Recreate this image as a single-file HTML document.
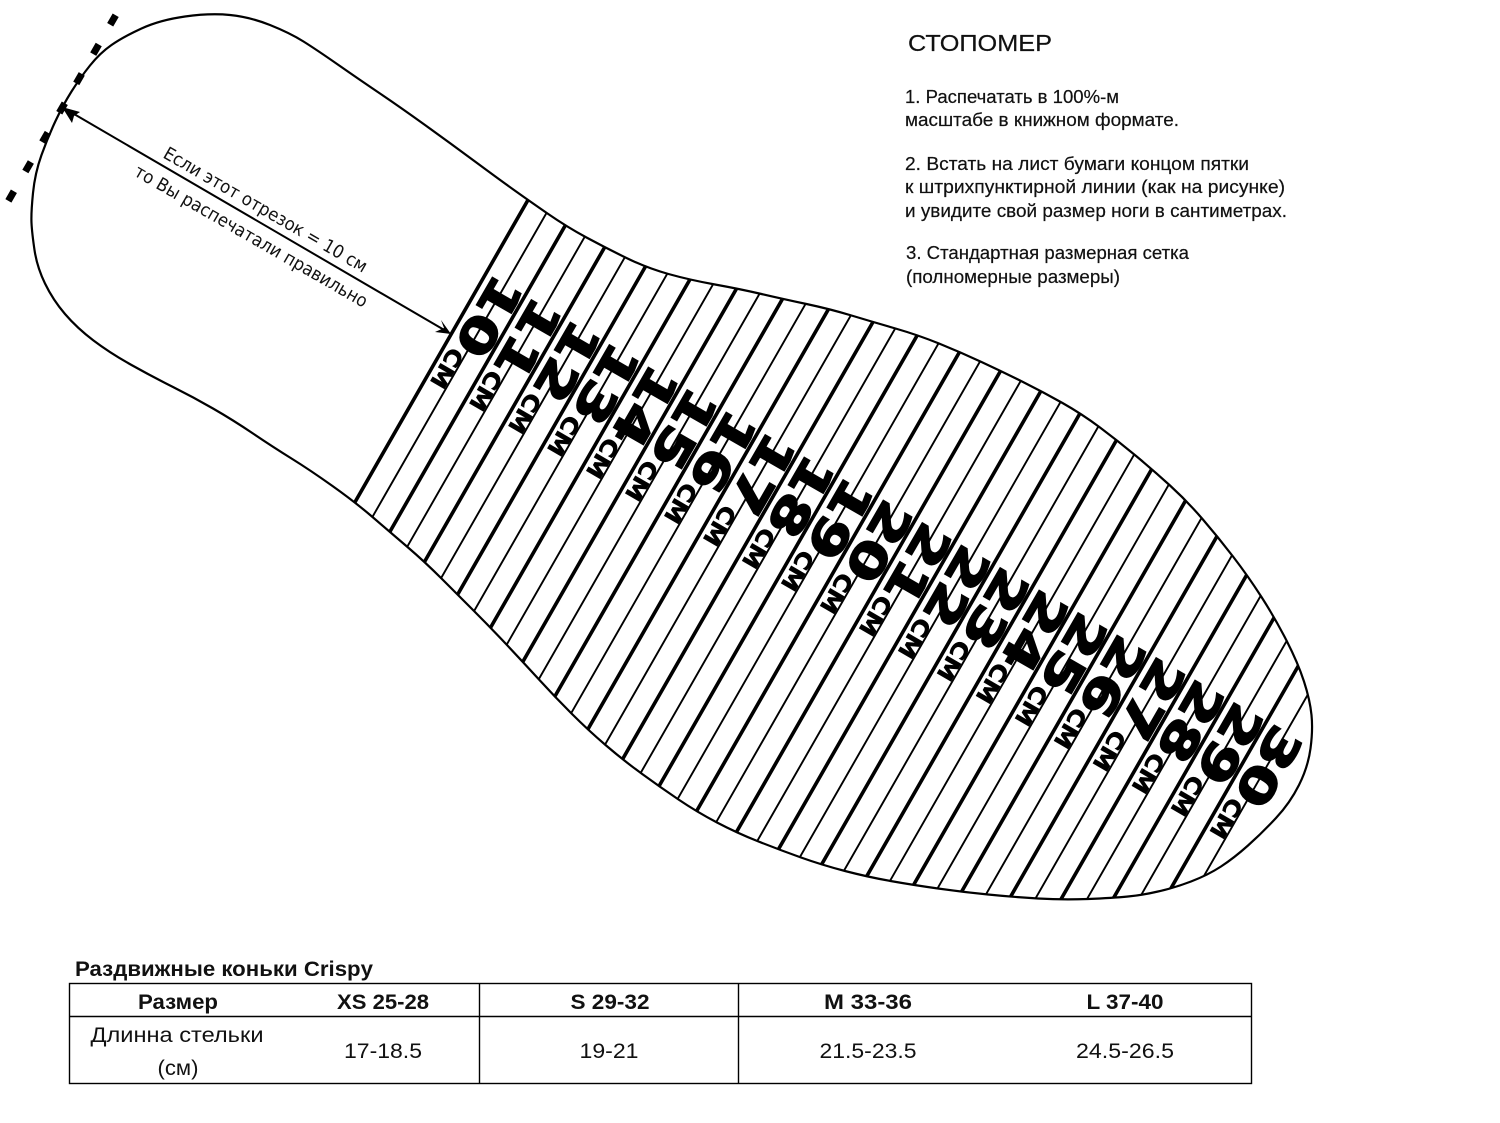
<!DOCTYPE html>
<html lang="ru"><head><meta charset="utf-8"><title>Стопомер</title>
<style>html,body{margin:0;padding:0;background:#fff;overflow:hidden;width:1500px;height:1123px}svg{display:block}</style></head>
<body>
<svg xmlns="http://www.w3.org/2000/svg" width="1500" height="1123" viewBox="0 0 1500 1123">
<defs>
<clipPath id="foot"><path d="M185 16.5Q210 13 230 15Q250 17 270 25Q290 33 303.5 41.5Q317 50 338.5 65Q360 80 380 93.5Q400 107 425 125Q450 143 475 161.5Q500 180 514 190Q528 200 547.5 213.5Q567 227 586.5 237.5Q606 248 626.5 258Q647 268 668.5 274Q690 280 715 284.5Q740 289 761.5 294Q783 299 806.5 304Q830 309 851.5 315.5Q873 322 895.5 328.5Q918 335 939 343.5Q960 352 981.5 362Q1003 372 1023 382Q1043 392 1062.5 403Q1082 414 1100 427.5Q1118 441 1135.5 455.5Q1153 470 1170 485.5Q1187 501 1202.5 519Q1218 537 1233 556.5Q1248 576 1261.5 597Q1275 618 1286.5 640.5Q1298 663 1304 681.5Q1310 700 1311.5 715Q1313 730 1310.5 748.5Q1308 767 1299 785Q1290 803 1276 818Q1262 833 1248 845.5Q1234 858 1221 866.5Q1208 875 1191 881.5Q1174 888 1158 891.5Q1143 895 1128 896.5Q1113 898 1088 899Q1063 900 1038 898.5Q1013 897 988 894.5Q963 892 938 888.5Q913 885 890.5 881Q868 877 845 871Q822 865 801 857.5Q780 850 758.5 841.5Q737 833 717 822.5Q697 812 678.5 799.5Q660 787 641.5 773.5Q623 760 605.5 745Q588 730 571.5 713.5Q555 697 539 679.5Q523 662 506.5 644.5Q490 627 474 611Q458 595 441.5 578.5Q425 562 407.5 547Q390 532 372.5 517Q355 502 332.5 486Q310 470 291.5 458.5Q273 447 253 433.5Q233 420 213 408.5Q193 397 173 387Q153 377 131.5 365Q110 353 93.5 340.5Q77 328 65 314Q53 300 45 283.5Q37 267 34.5 250Q32 233 31.5 223Q31 213 33 193Q35 173 41.5 155Q48 137 55.5 121Q63 105 71.5 91.5Q80 78 90 65.5Q100 53 111.5 45Q123 37 141.5 28.5Q160 20 185 16.5Z"/></clipPath>
</defs>
<rect width="1500" height="1123" fill="#fff"/>

<g clip-path="url(#foot)">
<g transform="translate(528,200) rotate(29.8)" stroke="#000" fill="none">
<path stroke-width="3.6" d="M0 -120V470M45 -120V470M90 -120V470M135 -120V470M180 -120V470M225 -120V470M270 -120V470M315 -120V470M360 -120V470M405 -120V470M450 -120V470M495 -120V470M540 -120V470M585 -120V470M630 -120V470M675 -120V470M720 -120V470M765 -120V470M810 -120V470M855 -120V470M900 -120V470"/>
<path stroke-width="1.9" d="M22.5 -120V470M67.5 -120V470M112.5 -120V470M157.5 -120V470M202.5 -120V470M247.5 -120V470M292.5 -120V470M337.5 -120V470M382.5 -120V470M427.5 -120V470M472.5 -120V470M517.5 -120V470M562.5 -120V470M607.5 -120V470M652.5 -120V470M697.5 -120V470M742.5 -120V470M787.5 -120V470M832.5 -120V470M877.5 -120V470M922.5 -120V470"/>
</g>
</g>
<path d="M185 16.5Q210 13 230 15Q250 17 270 25Q290 33 303.5 41.5Q317 50 338.5 65Q360 80 380 93.5Q400 107 425 125Q450 143 475 161.5Q500 180 514 190Q528 200 547.5 213.5Q567 227 586.5 237.5Q606 248 626.5 258Q647 268 668.5 274Q690 280 715 284.5Q740 289 761.5 294Q783 299 806.5 304Q830 309 851.5 315.5Q873 322 895.5 328.5Q918 335 939 343.5Q960 352 981.5 362Q1003 372 1023 382Q1043 392 1062.5 403Q1082 414 1100 427.5Q1118 441 1135.5 455.5Q1153 470 1170 485.5Q1187 501 1202.5 519Q1218 537 1233 556.5Q1248 576 1261.5 597Q1275 618 1286.5 640.5Q1298 663 1304 681.5Q1310 700 1311.5 715Q1313 730 1310.5 748.5Q1308 767 1299 785Q1290 803 1276 818Q1262 833 1248 845.5Q1234 858 1221 866.5Q1208 875 1191 881.5Q1174 888 1158 891.5Q1143 895 1128 896.5Q1113 898 1088 899Q1063 900 1038 898.5Q1013 897 988 894.5Q963 892 938 888.5Q913 885 890.5 881Q868 877 845 871Q822 865 801 857.5Q780 850 758.5 841.5Q737 833 717 822.5Q697 812 678.5 799.5Q660 787 641.5 773.5Q623 760 605.5 745Q588 730 571.5 713.5Q555 697 539 679.5Q523 662 506.5 644.5Q490 627 474 611Q458 595 441.5 578.5Q425 562 407.5 547Q390 532 372.5 517Q355 502 332.5 486Q310 470 291.5 458.5Q273 447 253 433.5Q233 420 213 408.5Q193 397 173 387Q153 377 131.5 365Q110 353 93.5 340.5Q77 328 65 314Q53 300 45 283.5Q37 267 34.5 250Q32 233 31.5 223Q31 213 33 193Q35 173 41.5 155Q48 137 55.5 121Q63 105 71.5 91.5Q80 78 90 65.5Q100 53 111.5 45Q123 37 141.5 28.5Q160 20 185 16.5Z" fill="none" stroke="#000" stroke-width="2.2"/>

<!-- number labels -->
<g transform="translate(528,200) rotate(30)" font-family="'DejaVu Sans',sans-serif" font-weight="bold" fill="#000" stroke="#000">
<g font-size="47" stroke-width="1.6">
<text transform="translate(8,78) rotate(90) scale(1.3,1)">10</text>
<text transform="translate(53,78) rotate(90) scale(1.3,1)">11</text>
<text transform="translate(98,78) rotate(90) scale(1.3,1)">12</text>
<text transform="translate(143,78) rotate(90) scale(1.3,1)">13</text>
<text transform="translate(188,78) rotate(90) scale(1.3,1)">14</text>
<text transform="translate(233,78) rotate(90) scale(1.3,1)">15</text>
<text transform="translate(278,78) rotate(90) scale(1.3,1)">16</text>
<text transform="translate(323,78) rotate(90) scale(1.3,1)">17</text>
<text transform="translate(368,78) rotate(90) scale(1.3,1)">18</text>
<text transform="translate(413,78) rotate(90) scale(1.3,1)">19</text>
<text transform="translate(458,78) rotate(90) scale(1.3,1)">20</text>
<text transform="translate(503,78) rotate(90) scale(1.3,1)">21</text>
<text transform="translate(548,78) rotate(90) scale(1.3,1)">22</text>
<text transform="translate(593,78) rotate(90) scale(1.3,1)">23</text>
<text transform="translate(638,78) rotate(90) scale(1.3,1)">24</text>
<text transform="translate(683,78) rotate(90) scale(1.3,1)">25</text>
<text transform="translate(728,78) rotate(90) scale(1.3,1)">26</text>
<text transform="translate(773,78) rotate(90) scale(1.3,1)">27</text>
<text transform="translate(818,78) rotate(90) scale(1.3,1)">28</text>
<text transform="translate(863,78) rotate(90) scale(1.3,1)">29</text>
<text transform="translate(908,78) rotate(90) scale(1.3,1)">30</text>
</g>
<g font-size="22" stroke-width="0.6">
<text transform="translate(6,165) rotate(90) scale(1.12,1)">СМ</text>
<text transform="translate(51,165) rotate(90) scale(1.12,1)">СМ</text>
<text transform="translate(96,165) rotate(90) scale(1.12,1)">СМ</text>
<text transform="translate(141,165) rotate(90) scale(1.12,1)">СМ</text>
<text transform="translate(186,165) rotate(90) scale(1.12,1)">СМ</text>
<text transform="translate(231,165) rotate(90) scale(1.12,1)">СМ</text>
<text transform="translate(276,165) rotate(90) scale(1.12,1)">СМ</text>
<text transform="translate(321,165) rotate(90) scale(1.12,1)">СМ</text>
<text transform="translate(366,165) rotate(90) scale(1.12,1)">СМ</text>
<text transform="translate(411,165) rotate(90) scale(1.12,1)">СМ</text>
<text transform="translate(456,165) rotate(90) scale(1.12,1)">СМ</text>
<text transform="translate(501,165) rotate(90) scale(1.12,1)">СМ</text>
<text transform="translate(546,165) rotate(90) scale(1.12,1)">СМ</text>
<text transform="translate(591,165) rotate(90) scale(1.12,1)">СМ</text>
<text transform="translate(636,165) rotate(90) scale(1.12,1)">СМ</text>
<text transform="translate(681,165) rotate(90) scale(1.12,1)">СМ</text>
<text transform="translate(726,165) rotate(90) scale(1.12,1)">СМ</text>
<text transform="translate(771,165) rotate(90) scale(1.12,1)">СМ</text>
<text transform="translate(816,165) rotate(90) scale(1.12,1)">СМ</text>
<text transform="translate(861,165) rotate(90) scale(1.12,1)">СМ</text>
<text transform="translate(906,165) rotate(90) scale(1.12,1)">СМ</text>
</g>
</g>

<!-- dash line -->
<line x1="115.7" y1="15.2" x2="8" y2="201.5" stroke="#000" stroke-width="7" stroke-dasharray="11 22.9"/>

<!-- arrow -->
<line x1="68" y1="110.5" x2="446" y2="331" stroke="#000" stroke-width="2"/>
<polygon points="62,107 80,112 74,116 72,123" fill="#000"/>
<polygon points="451,334 441,320 444,328 435,332" fill="#000"/>
<g font-family="'DejaVu Sans',sans-serif" font-size="18" fill="#111">
<text transform="translate(162,157) rotate(30)" textLength="232" lengthAdjust="spacingAndGlyphs">Если этот отрезок = 10 см</text>
<text transform="translate(133,175) rotate(30)" textLength="266" lengthAdjust="spacingAndGlyphs">то Вы распечатали правильно</text>
</g>

<!-- instructions -->
<g font-family="'Liberation Sans',sans-serif" fill="#111" font-size="18" stroke="#111" stroke-width="0.2">
<text x="908" y="51" font-size="23.5" textLength="144" lengthAdjust="spacingAndGlyphs">СТОПОМЕР</text>
<text x="905" y="103" textLength="214" lengthAdjust="spacingAndGlyphs">1. Распечатать в 100%-м</text>
<text x="905" y="126" textLength="274" lengthAdjust="spacingAndGlyphs">масштабе в книжном формате.</text>
<text x="905" y="170" textLength="344" lengthAdjust="spacingAndGlyphs">2. Встать на лист бумаги концом пятки</text>
<text x="905" y="193" textLength="380" lengthAdjust="spacingAndGlyphs">к штрихпунктирной линии (как на рисунке)</text>
<text x="905" y="217" textLength="382" lengthAdjust="spacingAndGlyphs">и увидите свой размер ноги в сантиметрах.</text>
<text x="906" y="259" textLength="283" lengthAdjust="spacingAndGlyphs">3. Стандартная размерная сетка</text>
<text x="906" y="283" textLength="214" lengthAdjust="spacingAndGlyphs">(полномерные размеры)</text>
</g>

<!-- table -->
<g fill="none" stroke="#000" stroke-width="1.4">
<rect x="69.5" y="983.5" width="1182" height="100"/>
<line x1="69.5" y1="1016.5" x2="1251.5" y2="1016.5"/>
<line x1="479.5" y1="983.5" x2="479.5" y2="1083.5"/>
<line x1="738.5" y1="983.5" x2="738.5" y2="1083.5"/>
</g>
<g font-family="'Liberation Sans',sans-serif" font-size="21" fill="#111">
<text x="75" y="976" font-weight="bold" textLength="298" lengthAdjust="spacingAndGlyphs">Раздвижные коньки Crispy</text>
<g font-weight="bold" text-anchor="middle">
<text x="178" y="1009" textLength="80" lengthAdjust="spacingAndGlyphs">Размер</text>
<text x="383" y="1009" textLength="92" lengthAdjust="spacingAndGlyphs">XS 25-28</text>
<text x="610" y="1009" textLength="79" lengthAdjust="spacingAndGlyphs">S 29-32</text>
<text x="868" y="1009" textLength="88" lengthAdjust="spacingAndGlyphs">M 33-36</text>
<text x="1125" y="1009" textLength="77" lengthAdjust="spacingAndGlyphs">L 37-40</text>
</g>
<g text-anchor="middle">
<text x="177" y="1042" textLength="173" lengthAdjust="spacingAndGlyphs">Длинна стельки</text>
<text x="178" y="1075" textLength="41" lengthAdjust="spacingAndGlyphs">(см)</text>
<text x="383" y="1058" textLength="78" lengthAdjust="spacingAndGlyphs">17-18.5</text>
<text x="609" y="1058" textLength="59" lengthAdjust="spacingAndGlyphs">19-21</text>
<text x="868" y="1058" textLength="97" lengthAdjust="spacingAndGlyphs">21.5-23.5</text>
<text x="1125" y="1058" textLength="98" lengthAdjust="spacingAndGlyphs">24.5-26.5</text>
</g>
</g>
</svg>
</body></html>
